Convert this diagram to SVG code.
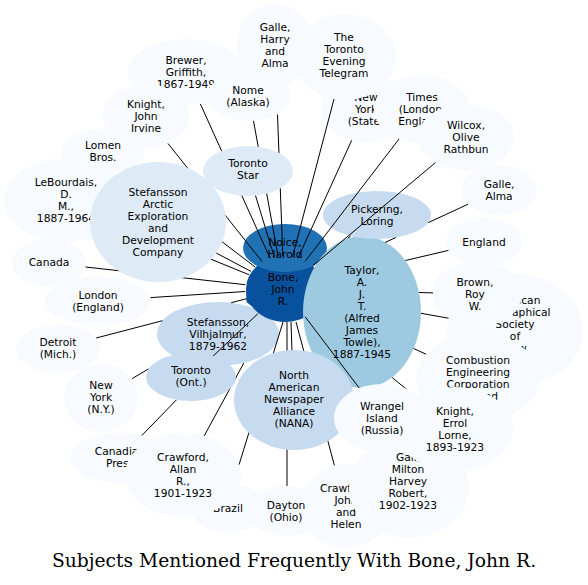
<svg xmlns="http://www.w3.org/2000/svg" width="588" height="585" viewBox="0 0 588 585">
<style>
.n0{fill:#f7fbff}.n1{fill:#deebf7}.n2{fill:#c6dbef}.n3{fill:#9ecae1}.n4{fill:#2171b5}.n5{fill:#08519c}
text{font-family:"DejaVu Sans",Verdana,sans-serif;font-size:10.7px;text-anchor:middle;fill:#000}
#connectors path{fill:none;stroke:#000;stroke-width:1}
#title{font-family:"DejaVu Serif",serif;font-size:18.7px}
</style>
<rect width="588" height="585" fill="#fff"/>
<g id="nodes-back">
<g id="node-galle-harry"><ellipse class="n0" cx="275" cy="45" rx="38" ry="41"/><text><tspan x="275" y="31">Galle,</tspan><tspan x="275" y="43">Harry</tspan><tspan x="275" y="55">and</tspan><tspan x="275" y="67">Alma</tspan></text></g>
<g id="node-brewer"><ellipse class="n0" cx="186" cy="72" rx="58" ry="33"/><text><tspan x="186" y="64">Brewer,</tspan><tspan x="186" y="76">Griffith,</tspan><tspan x="186" y="88">1867-1949</tspan></text></g>
<g id="node-nome"><ellipse class="n0" cx="249" cy="96" rx="42" ry="25"/><text><tspan x="248" y="94">Nome</tspan><tspan x="248" y="106">(Alaska)</tspan></text></g>
<g id="node-ny-state"><ellipse class="n0" cx="366" cy="109" rx="45" ry="33"/><text><tspan x="366" y="101">New</tspan><tspan x="366" y="113">York</tspan><tspan x="366" y="125">(State)</tspan></text></g>
<g id="node-tet"><ellipse class="n0" cx="345" cy="57" rx="51" ry="43"/><text><tspan x="344" y="41">The</tspan><tspan x="344" y="53">Toronto</tspan><tspan x="344" y="65">Evening</tspan><tspan x="344" y="77">Telegram</tspan></text></g>
<g id="node-times"><ellipse class="n0" cx="422" cy="109" rx="48" ry="34"/><text><tspan x="422" y="101">Times</tspan><tspan x="422" y="113">(London,</tspan><tspan x="422" y="125">England)</tspan></text></g>
<g id="node-wilcox"><ellipse class="n0" cx="466" cy="137" rx="48" ry="33"/><text><tspan x="466" y="129">Wilcox,</tspan><tspan x="466" y="141">Olive</tspan><tspan x="466" y="153">Rathbun</tspan></text></g>
<g id="node-galle-alma"><ellipse class="n0" cx="499" cy="190" rx="38" ry="25"/><text><tspan x="499" y="188">Galle,</tspan><tspan x="499" y="200">Alma</tspan></text></g>
<g id="node-england"><ellipse class="n0" cx="484" cy="242" rx="38" ry="24"/><text x="484" y="246">England</text></g>
<g id="node-amgeo"><ellipse class="n0" cx="515" cy="330" rx="68" ry="56"/><text><tspan x="515" y="304">American</tspan><tspan x="515" y="316">Geographical</tspan><tspan x="515" y="328">Society</tspan><tspan x="515" y="340">of</tspan><tspan x="515" y="352">New</tspan><tspan x="515" y="364">York</tspan></text></g>
<g id="node-brown"><ellipse class="n0" cx="477" cy="294" rx="45" ry="33"/><text><tspan x="475" y="286">Brown,</tspan><tspan x="475" y="298">Roy</tspan><tspan x="475" y="310">W.</tspan></text></g>
<g id="node-combustion"><ellipse class="n0" cx="478" cy="378" rx="62" ry="44"/><text><tspan x="478" y="364">Combustion</tspan><tspan x="478" y="376">Engineering</tspan><tspan x="478" y="388">Corporation</tspan><tspan x="478" y="400">Limited</tspan></text></g>
<g id="node-crawford-john"><ellipse class="n0" cx="346" cy="506" rx="45" ry="42"/><text><tspan x="346" y="492">Crawford,</tspan><tspan x="346" y="504">John</tspan><tspan x="346" y="516">and</tspan><tspan x="346" y="528">Helen</tspan></text></g>
<g id="node-gall"><ellipse class="n0" cx="409" cy="488" rx="60" ry="50"/><text><tspan x="408" y="461">Gall,</tspan><tspan x="408" y="473">Milton</tspan><tspan x="408" y="485">Harvey</tspan><tspan x="408" y="497">Robert,</tspan><tspan x="408" y="509">1902-1923</tspan></text></g>
<g id="node-knight-errol"><ellipse class="n0" cx="455" cy="429" rx="58" ry="42"/><text><tspan x="455" y="415">Knight,</tspan><tspan x="455" y="427">Errol</tspan><tspan x="455" y="439">Lorne,</tspan><tspan x="455" y="451">1893-1923</tspan></text></g>
<g id="node-dayton"><ellipse class="n0" cx="286" cy="511" rx="38" ry="25"/><text><tspan x="286" y="509">Dayton</tspan><tspan x="286" y="521">(Ohio)</tspan></text></g>
<g id="node-brazil"><ellipse class="n0" cx="228" cy="508" rx="37" ry="25"/><text x="228" y="512">Brazil</text></g>
<g id="node-canadian-press"><ellipse class="n0" cx="120" cy="458" rx="50" ry="25"/><text><tspan x="120" y="455">Canadian</tspan><tspan x="120" y="467">Press</tspan></text></g>
<g id="node-crawford-allan"><ellipse class="n0" cx="183" cy="475" rx="58" ry="42"/><text><tspan x="183" y="461">Crawford,</tspan><tspan x="183" y="473">Allan</tspan><tspan x="183" y="485">R.,</tspan><tspan x="183" y="497">1901-1923</tspan></text></g>
<g id="node-ny-ny"><ellipse class="n0" cx="101" cy="398" rx="37" ry="34"/><text><tspan x="101" y="389">New</tspan><tspan x="101" y="401">York</tspan><tspan x="101" y="413">(N.Y.)</tspan></text></g>
<g id="node-detroit"><ellipse class="n0" cx="58" cy="349" rx="42" ry="24"/><text><tspan x="58" y="346">Detroit</tspan><tspan x="58" y="358">(Mich.)</tspan></text></g>
<g id="node-london"><ellipse class="n0" cx="98" cy="301" rx="53" ry="24"/><text><tspan x="98" y="299">London</tspan><tspan x="98" y="311">(England)</tspan></text></g>
<g id="node-canada"><ellipse class="n0" cx="49" cy="263" rx="37" ry="24"/><text x="49" y="266">Canada</text></g>
<g id="node-lebourdais"><ellipse class="n0" cx="66" cy="200" rx="62" ry="42"/><text><tspan x="66" y="186">LeBourdais,</tspan><tspan x="66" y="198">D.</tspan><tspan x="66" y="210">M.,</tspan><tspan x="66" y="222">1887-1964</tspan></text></g>
<g id="node-lomen"><ellipse class="n0" cx="103" cy="151" rx="42" ry="22"/><text><tspan x="103" y="149">Lomen</tspan><tspan x="103" y="161">Bros.</tspan></text></g>
<g id="node-knight-ji"><ellipse class="n0" cx="146" cy="116" rx="43" ry="32"/><text><tspan x="146" y="108">Knight,</tspan><tspan x="146" y="120">John</tspan><tspan x="146" y="132">Irvine</tspan></text></g>
<g id="node-stef-v"><ellipse class="n2" cx="218" cy="334" rx="61" ry="32"/><text><tspan x="218" y="326">Stefansson,</tspan><tspan x="218" y="338">Vilhjalmur,</tspan><tspan x="218" y="350">1879-1962</tspan></text></g>
<g id="node-bone"><path class="n5" d="M285,256 A39 33 0 0 0 246,289 L246.5,302 Q251,305 256,311 A39 33 0 0 0 324,289 A39 33 0 0 0 285,256 Z"/><text><tspan x="283" y="281">Bone,</tspan><tspan x="283" y="293">John</tspan><tspan x="283" y="305">R.</tspan></text></g>
<g id="node-noice"><ellipse class="n4" cx="285" cy="248" rx="42" ry="24"/><text><tspan x="285" y="246">Noice,</tspan><tspan x="285" y="258">Harold</tspan></text></g>
<g id="node-taylor"><ellipse class="n3" cx="362" cy="312" rx="59" ry="76"/><text><tspan x="362" y="274">Taylor,</tspan><tspan x="362" y="286">A.</tspan><tspan x="362" y="298">J.</tspan><tspan x="362" y="310">T.</tspan><tspan x="362" y="322">(Alfred</tspan><tspan x="362" y="334">James</tspan><tspan x="362" y="346">Towle),</tspan><tspan x="362" y="358">1887-1945</tspan></text></g>
<g id="node-pickering"><ellipse class="n2" cx="377" cy="215" rx="54" ry="24"/><text><tspan x="377" y="213">Pickering,</tspan><tspan x="377" y="225">Loring</tspan></text></g>
</g>
<g id="connectors">
<path d="M277.5,114.5 L282.8,256"/>
<path d="M253.5,120.9 L278.1,256.4"/>
<path d="M200.4,104 L270.1,258.2"/>
<path d="M255.4,195.2 L274.3,257.1"/>
<path d="M168,143.5 L262.2,261.7"/>
<path d="M126.8,169.1 L255,266.9"/>
<path d="M119.1,221.7 L248.9,274.7"/>
<path d="M216.2,253 L251,271.4"/>
<path d="M85.5,267 L245.3,284.7"/>
<path d="M150.5,297.6 L245.1,291.5"/>
<path d="M96.2,338 L162.5,320.7 M231.2,302.7 L246.7,298.7"/>
<path d="M132.1,378.6 L148.6,368.9"/>
<path d="M141.8,435.5 L176.6,399.7"/>
<path d="M213.1,356.1 L258,313.6"/>
<path d="M204.2,435.9 L243.8,363"/>
<path d="M283,322 L239.1,464.5"/>
<path d="M287,322 L287,486"/>
<path d="M291,322 L292,352"/>
<path d="M296,322 L334.4,465.4"/>
<path d="M305.1,316.7 L359.3,388.1"/>
<path d="M416.6,397.5 L392.2,377.6"/>
<path d="M425.9,354.1 L413.6,348.5"/>
<path d="M448.5,318.2 L421,313.3"/>
<path d="M433,292.9 L419,292.5"/>
<path d="M448.4,250.4 L405.4,260.5"/>
<path d="M467.9,204.3 L428.3,222.6 M395.8,237.5 L385,242.5"/>
<path d="M350.7,235.9 L347.8,238.3"/>
<path d="M435.5,162.5 L312.8,265.8"/>
<path d="M399.1,138.9 L305.2,261.3"/>
<path d="M351.7,140.3 L298,258.2"/>
<path d="M334,99 L292.5,256.8"/>
</g>
<g id="nodes-front">
<g id="node-stef-arctic"><ellipse class="n1" cx="158" cy="222" rx="68" ry="60"/><text><tspan x="158" y="196">Stefansson</tspan><tspan x="158" y="208">Arctic</tspan><tspan x="158" y="220">Exploration</tspan><tspan x="158" y="232">and</tspan><tspan x="158" y="244">Development</tspan><tspan x="158" y="256">Company</tspan></text></g>
<g id="node-toronto-star"><ellipse class="n1" cx="248" cy="171" rx="45" ry="25"/><text><tspan x="248" y="167">Toronto</tspan><tspan x="248" y="179">Star</tspan></text></g>
<g id="node-nana"><ellipse class="n2" cx="294" cy="400" rx="60" ry="50"/><text><tspan x="294" y="379">North</tspan><tspan x="294" y="391">American</tspan><tspan x="294" y="403">Newspaper</tspan><tspan x="294" y="415">Alliance</tspan><tspan x="294" y="427">(NANA)</tspan></text></g>
<g id="node-wrangel"><ellipse class="n0" cx="382" cy="418" rx="48" ry="34"/><text><tspan x="382" y="410">Wrangel</tspan><tspan x="382" y="422">Island</tspan><tspan x="382" y="434">(Russia)</tspan></text></g>
<g id="node-toronto-ont"><ellipse class="n2" cx="191" cy="377" rx="45" ry="24"/><text><tspan x="191" y="374">Toronto</tspan><tspan x="191" y="386">(Ont.)</tspan></text></g>
</g>
<text id="title" x="294" y="567">Subjects Mentioned Frequently With Bone, John R.</text>
</svg>
